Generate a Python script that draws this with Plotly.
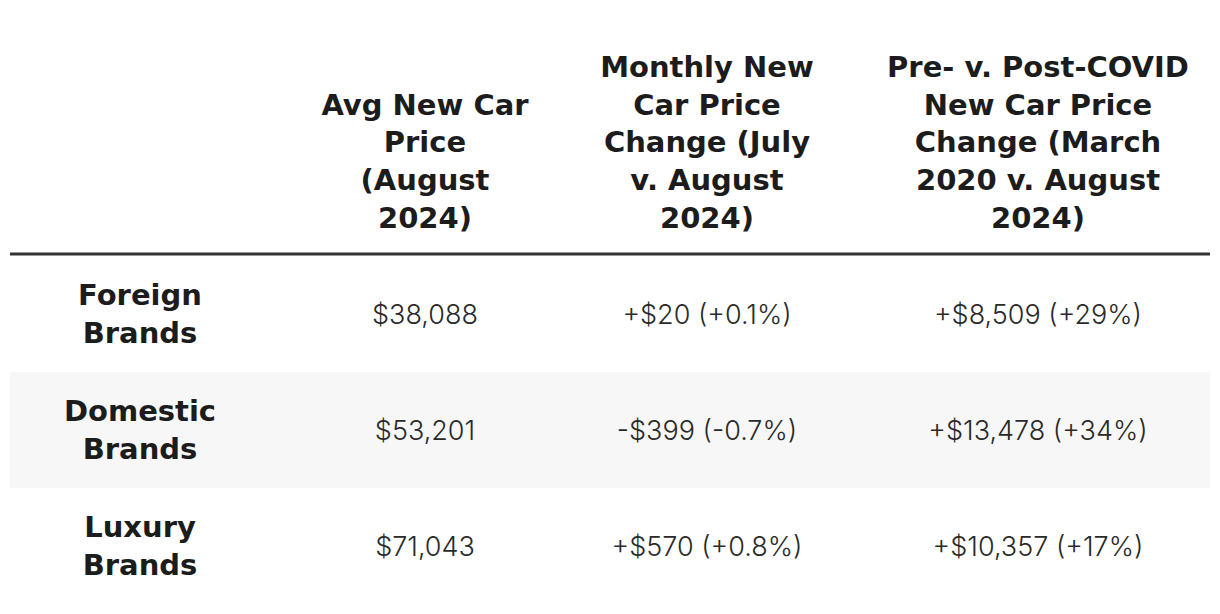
import plotly.graph_objects as go

# ---- data ----
row_labels = ["Foreign Brands", "Domestic Brands", "Luxury Brands"]
avg_price = [38088, 53201, 71043]
monthly_change = [20, -399, 570]
monthly_pct = [0.1, -0.7, 0.8]
covid_change = [8509, 13478, 10357]
covid_pct = [29, 34, 17]
headers = [
    "",
    "Avg New Car<br>Price<br>(August<br>2024)",
    "Monthly New<br>Car Price<br>Change (July<br>v. August<br>2024)",
    "Pre- v. Post-COVID<br>New Car Price<br>Change (March<br>2020 v. August<br>2024)",
]

# ---- layout constants (page pixels; page body has an 8px offset) ----
W, H = 1220, 614
OFF = 8
col_x = [140, 425, 707, 1038]
row_px = 116
row0_px = 314
left, right = 10, 1210
header_line_px = 254
header_bottom_px = 235
text_nudge_px = 3


def to_row(px):
    return (px - row0_px) / row_px


def money(v, sign=False):
    s = f"${abs(v):,}"
    if sign:
        s = ("+" if v >= 0 else "-") + s
    return s


def pct(v, dec):
    return f"({'+' if v >= 0 else '-'}{abs(v):.{dec}f}%)"


col1 = [money(v) for v in avg_price]
col2 = [f"{money(v, True)} {pct(p, 1)}" for v, p in zip(monthly_change, monthly_pct)]
col3 = [f"{money(v, True)} {pct(p, 0)}" for v, p in zip(covid_change, covid_pct)]
labels_br = [s.replace(" ", "<br>") for s in row_labels]

bold_font = dict(family="DejaVu Sans", size=29, color="#1c1c1c", weight="bold")
body_font = dict(family="Inter, Open Sans", size=27, color="#2a2a2a", weight=300)

rows = list(range(len(row_labels)))
text_rows = [i + text_nudge_px / row_px for i in rows]
fig = go.Figure()

# header texts
fig.add_trace(go.Scatter(
    x=col_x[1:], y=[to_row(header_bottom_px)] * 3, text=headers[1:],
    mode="text", textposition="top center", textfont=bold_font,
    hoverinfo="skip", showlegend=False, cliponaxis=False))

# row labels
fig.add_trace(go.Scatter(
    x=[col_x[0]] * len(rows), y=text_rows, text=labels_br, mode="text",
    textposition="middle center", textfont=bold_font,
    hoverinfo="skip", showlegend=False, cliponaxis=False))

for cx, vals in zip(col_x[1:], [col1, col2, col3]):
    fig.add_trace(go.Scatter(
        x=[cx] * len(rows), y=text_rows, text=vals, mode="text",
        textposition="middle center", textfont=body_font,
        hoverinfo="skip", showlegend=False, cliponaxis=False))

# zebra background for odd rows
for i in rows:
    if i % 2 == 1:
        fig.add_shape(type="rect", x0=left, x1=right, y0=i - 0.5, y1=i + 0.5,
                      xref="x", yref="y", fillcolor="#f7f7f7",
                      line=dict(width=0), layer="below")

# header rule
fig.add_shape(type="line", x0=left, x1=right,
              y0=to_row(header_line_px), y1=to_row(header_line_px),
              xref="x", yref="y", line=dict(color="#333333", width=3))

fig.update_xaxes(range=[OFF, W + OFF], visible=False, fixedrange=True)
fig.update_yaxes(range=[to_row(H + OFF), to_row(OFF)], visible=False, fixedrange=True)
fig.update_layout(width=W, height=H, margin=dict(l=0, r=0, t=0, b=0),
                  plot_bgcolor="white", paper_bgcolor="white")

fig.write_html("out.html")
